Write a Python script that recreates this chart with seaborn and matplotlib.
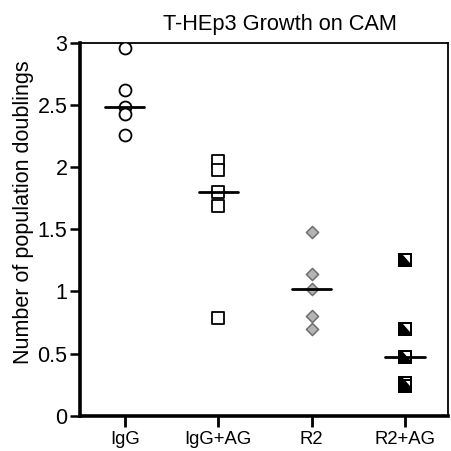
import matplotlib
matplotlib.use("Agg")

import numpy as np
import pandas as pd
import matplotlib.pyplot as plt
from matplotlib.path import Path
import seaborn as sns

# values
groups = ["IgG", "IgG+AG", "R2", "R2+AG"]
igg = [2.96, 2.62, 2.48, 2.43, 2.26]
igg_ag = [2.05, 1.98, 1.80, 1.69, 0.79]
r2 = [1.48, 1.14, 1.02, 0.80, 0.70]
r2_ag = [1.25, 0.70, 0.47, 0.26, 0.24]
y_ticks = [0, 0.5, 1, 1.5, 2, 2.5, 3]
y_tick_labels = ["0", "0.5", "1", "1.5", "2", "2.5", "3"]

# black square with a white notch in the upper right corner
notched = Path(
    [(-0.5, -0.5), (0.5, -0.5), (0.5, 0.5), (-0.5, 0.5), (-0.5, -0.5),
     (-0.18, 0.34), (0.35, 0.34), (0.35, -0.2), (-0.18, 0.34)],
    [Path.MOVETO, Path.LINETO, Path.LINETO, Path.LINETO, Path.CLOSEPOLY,
     Path.MOVETO, Path.LINETO, Path.LINETO, Path.CLOSEPOLY],
)

styles = {
    "IgG": dict(marker="o", size=8.6, color="white", edgecolor="black", linewidth=1.3),
    "IgG+AG": dict(marker="s", size=8.6, color="white", edgecolor="black", linewidth=1.3),
    "R2": dict(marker="D", size=6.2, color="#b4b4b4", edgecolor="#6e6e6e", linewidth=1.1),
    "R2+AG": dict(marker=notched, size=9.8, color="black", linewidth=0),
}

df = pd.DataFrame({
    "group": [g for g, vals in zip(groups, [igg, igg_ag, r2, r2_ag]) for _ in vals],
    "doublings": igg + igg_ag + r2 + r2_ag,
})

sns.set_style("white")
plt.rcParams["font.family"] = ["Liberation Sans", "DejaVu Sans"]
plt.rcParams["text.color"] = "black"
plt.rcParams["axes.labelcolor"] = "black"
plt.rcParams["xtick.color"] = "black"
plt.rcParams["ytick.color"] = "black"

fig = plt.figure(figsize=(4.52, 4.51), dpi=100)
ax = fig.add_axes([0.177, 0.078, 0.814, 0.827])

for g in groups:
    sub = df[df["group"] == g]
    sns.stripplot(data=sub, x="group", y="doublings", order=groups, jitter=False,
                  ax=ax, zorder=3, **styles[g])

# median bars
medians = df.groupby("group")["doublings"].median().reindex(groups)
for i, m in enumerate(medians):
    ax.plot([i - 0.21, i + 0.21], [m, m], color="black", linewidth=2, zorder=4)

ax.set_xlim(-0.48, 3.46)
ax.set_ylim(0, 3)
ax.set_yticks(y_ticks)
ax.set_yticklabels(y_tick_labels)
ax.set_xlabel("")
ax.set_ylabel("Number of population doublings", fontsize=15.5)
ax.yaxis.set_label_coords(-0.125, 0.545)
ax.set_title("T-HEp3 Growth on CAM", fontsize=15.7, pad=9, x=0.544)

for side in ["left", "bottom"]:
    ax.spines[side].set_linewidth(2.6)
for side in ["top", "right"]:
    ax.spines[side].set_linewidth(1.3)
for sp in ax.spines.values():
    sp.set_color("black")

ax.tick_params(axis="y", direction="out", length=7, width=1.8, labelsize=15.5, pad=2, left=True)
ax.tick_params(axis="x", direction="out", length=8, width=2, labelsize=13.3, pad=3, bottom=True)

plt.savefig("out.png", dpi=100)
plt.close()
